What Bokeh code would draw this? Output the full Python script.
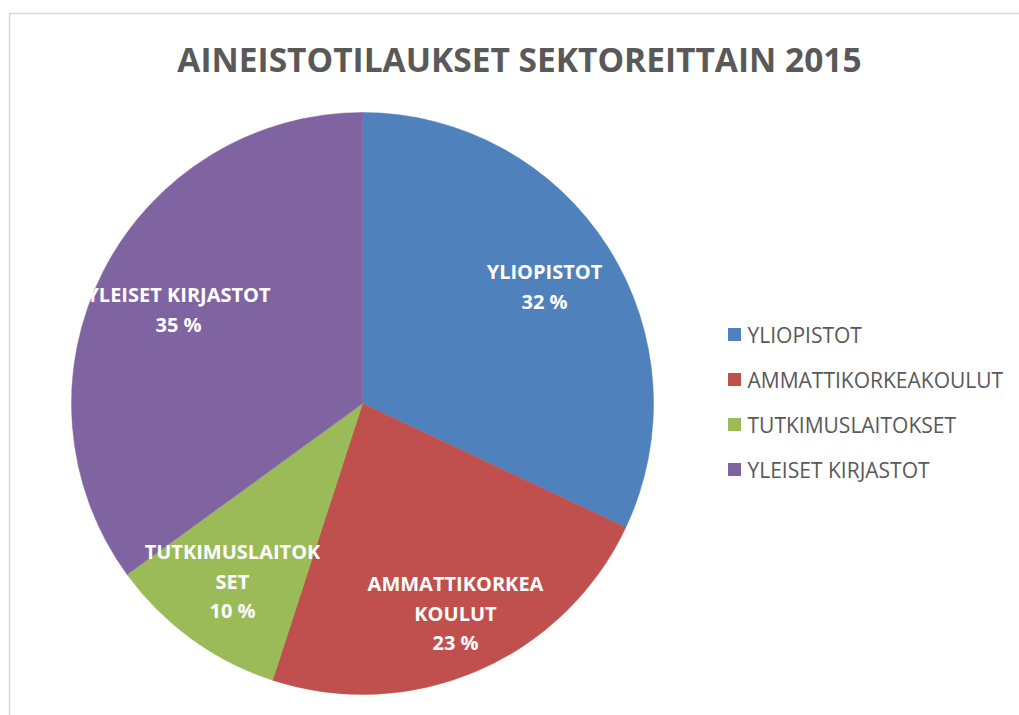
import numpy as np
from bokeh.plotting import figure
from bokeh.models import Range1d
from bokeh.core.properties import value
from bokeh.embed import file_html
from bokeh.resources import INLINE

# ---- data ----
title_text = "AINEISTOTILAUKSET SEKTOREITTAIN 2015"
categories = ["YLIOPISTOT", "AMMATTIKORKEAKOULUT", "TUTKIMUSLAITOKSET", "YLEISET KIRJASTOT"]
shares = [32, 23, 10, 35]
label_lines = [["YLIOPISTOT"], ["AMMATTIKORKEA", "KOULUT"], ["TUTKIMUSLAITOK", "SET"], ["YLEISET KIRJASTOT"]]
colors = ["#4F81BD", "#C0504D", "#9BBB59", "#8064A2"]

# ---- layout (pixels) ----
W, H = 1019, 715
cx, cy, R = 362, 403, 291
label_pos = [(544, 271), (455, 583), (232, 551), (178, 294)]
line_gap = 29.5
FONT = "Open Sans"

def Y(yp):
    return H - yp

p = figure(width=W, height=H, output_backend="svg", toolbar_location=None,
           x_range=Range1d(0, W), y_range=Range1d(0, H), min_border=0)
p.axis.visible = False
p.grid.visible = False
p.outline_line_color = None
p.background_fill_color = "white"
p.border_fill_color = "white"

# chart border
p.line([9, 9, W + 5], [Y(H + 5), Y(13), Y(13)], line_color="#D9D9D9", line_width=1.5)

# pie
vals = np.array(shares, dtype=float)
frac = vals / vals.sum()
cum = np.concatenate([[0], np.cumsum(frac)])
starts = np.pi / 2 - 2 * np.pi * cum[1:]
ends = np.pi / 2 - 2 * np.pi * cum[:-1]
p.wedge(x=[cx] * len(vals), y=[Y(cy)] * len(vals), radius=R,
        start_angle=list(starts), end_angle=list(ends), direction="anticlock",
        fill_color=colors, line_color=colors, line_width=0.5)

# data labels
xs, ys, ts = [], [], []
for i, (lines, (lx, ly)) in enumerate(zip(label_lines, label_pos)):
    all_lines = lines + [f"{shares[i]} %"]
    for j, t in enumerate(all_lines):
        xs.append(lx)
        ys.append(Y(ly + j * line_gap))
        ts.append(t)
p.text(x=xs, y=ys, text=ts, text_color="white", text_font=value(FONT),
       text_font_style="bold", text_font_size="20px", text_align="center",
       text_baseline="middle")

# title
p.text(x=[519], y=[Y(58)], text=[title_text], text_color="#595959",
       text_font=value(FONT), text_font_style="bold", text_font_size="33.5px",
       text_align="center", text_baseline="middle")

# legend
leg_x, leg_y0, leg_gap = 734, 334, 45
ly = [Y(leg_y0 + i * leg_gap) for i in range(len(categories))]
p.rect(x=[leg_x] * len(categories), y=ly, width=13, height=13,
       fill_color=colors, line_color=None)
p.text(x=[leg_x + 13] * len(categories), y=ly, text=categories,
       text_color="#595959", text_font=value(FONT), text_font_size="21px",
       text_align="left", text_baseline="middle")

open("out.html", "w").write(file_html(p, INLINE))
